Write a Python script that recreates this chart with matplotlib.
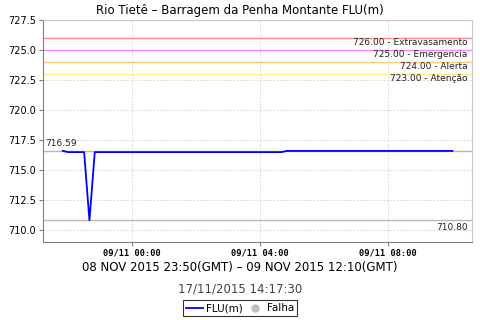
import matplotlib
matplotlib.use("Agg")
import matplotlib.pyplot as plt
import matplotlib.dates as mdates
import pandas as pd

# data (local time, 10 min readings, only points where the level changes)
times = ["2015-11-08 21:50", "2015-11-08 22:00", "2015-11-08 22:30",
         "2015-11-08 22:40", "2015-11-08 22:50", "2015-11-09 04:40",
         "2015-11-09 04:50", "2015-11-09 10:00"]
levels = [716.59, 716.48, 716.48, 710.80, 716.48, 716.48, 716.58, 716.58]

ref_values = [726.0, 725.0, 724.0, 723.0]
ref_names = ["Extravasamento", "Emergencia", "Alerta", "Atenção"]
ref_colors = ["#ff8c8c", "#ff80ff", "#ffc880", "#fff080"]

max_level = 716.59
min_level = 710.80

xlim = ["2015-11-08 21:13", "2015-11-09 10:37"]
xticks = ["2015-11-09 00:00", "2015-11-09 04:00", "2015-11-09 08:00"]
yticks = [710.0, 712.5, 715.0, 717.5, 720.0, 722.5, 725.0, 727.5]

t = pd.to_datetime(times)

fig = plt.figure(figsize=(4.8, 3.2), dpi=100)
ax = fig.add_axes([0.0896, 0.244, 0.894, 0.694])

# reference lines
for v, name, c in zip(ref_values, ref_names, ref_colors):
    ax.axhline(v, color=c, lw=1.0, zorder=2)
    ax.text(0.99, v, f"{v:.2f} - {name}", transform=ax.get_yaxis_transform(),
            ha="right", va="top", fontsize=6.5, color="#222222")

ax.axhline(max_level, color="#b8b8b8", lw=1.0, zorder=2)
ax.text(0.006, max_level + 0.2, f"{max_level:.2f}", transform=ax.get_yaxis_transform(),
        ha="left", va="bottom", fontsize=6.5, color="#222222")
ax.axhline(min_level, color="#b8b8b8", lw=1.0, zorder=2)
ax.text(0.99, min_level - 0.2, f"{min_level:.2f}", transform=ax.get_yaxis_transform(),
        ha="right", va="top", fontsize=6.5, color="#222222")

line, = ax.plot(t, levels, color="#0000ff", lw=1.3, zorder=3)
falha, = ax.plot([], [], "o", color="#c0c0c0", ms=5)

ax.set_xlim(pd.to_datetime(xlim))
ax.set_ylim(709.0, 727.5)
ax.set_yticks(yticks)
ax.set_yticklabels([f"{y:.1f}" for y in yticks], fontsize=7)
ax.set_xticks(pd.to_datetime(xticks))
ax.xaxis.set_major_formatter(mdates.DateFormatter("%d/%m %H:%M"))
for lab in ax.get_xticklabels():
    lab.set_fontfamily("DejaVu Sans Mono")
    lab.set_fontsize(6.2)
    lab.set_fontweight("bold")

ax.grid(True, color="#d0d0d0", ls=(0, (2, 2)), lw=0.6)
ax.tick_params(axis="both", length=3, color="#808080", pad=2)
for s in ["left", "bottom"]:
    ax.spines[s].set_color("#808080")
for s in ["top", "right"]:
    ax.spines[s].set_color("#c8c8c8")

fig.text(0.5, 0.968, "Rio Tietê – Barragem da Penha Montante FLU(m)",
         ha="center", va="center", fontsize=8.5)
fig.text(0.5, 0.163, "08 NOV 2015 23:50(GMT) – 09 NOV 2015 12:10(GMT)",
         ha="center", va="center", fontsize=8.5)
fig.text(0.5, 0.097, "17/11/2015 14:17:30", ha="center", va="center",
         fontsize=8.5, color="#444444")

leg = fig.legend([line, falha], ["FLU(m)", "Falha"], loc="center",
                 bbox_to_anchor=(0.5, 0.037), ncol=2, fontsize=7.5,
                 frameon=True, fancybox=False, edgecolor="black",
                 handlelength=1.6, handletextpad=0.3, columnspacing=0.4,
                 borderpad=0.3, borderaxespad=0)
leg.get_frame().set_linewidth(0.8)

fig.savefig("out.png", dpi=100)
